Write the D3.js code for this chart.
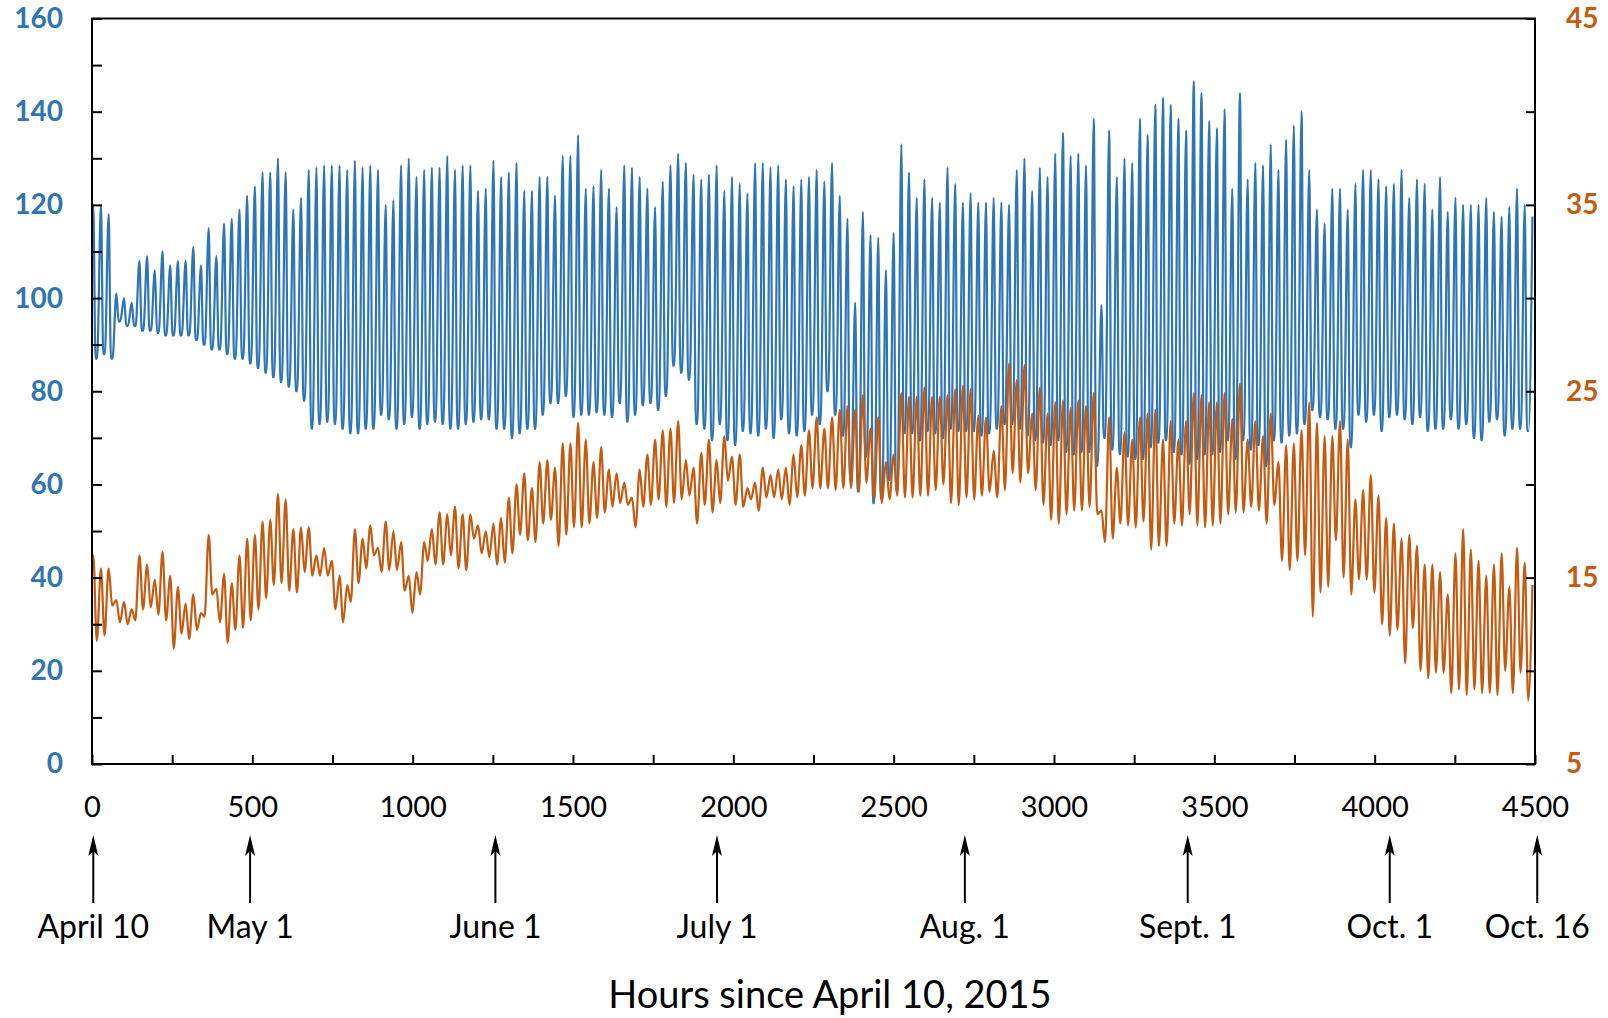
<!DOCTYPE html>
<html>
<head>
<meta charset="utf-8">
<script src="https://cdn.jsdelivr.net/npm/d3@7"></script>
<style>
  body { margin: 0; background: #fff; }
  svg { display: block; }
  text { font-family: Lato, "Open Sans", sans-serif; }
</style>
</head>
<body>
<div id="chart"></div>
<script>
/**
 * values, one peak and one trough per day
 * (day k peaks at hour 24k + 4)
 */

const blueStart = 112;
const bluePeaks = [
  120, 120, 118, 101, 100, 99, 108, 109, 106, 110, 107, 108, 108, 111, 107, 115, 109, 116, 117, 119,
  122, 124, 127, 127, 130, 127, 119, 121.5, 127.5, 128, 128.5, 128.5, 128.5, 127.5, 129.5, 128, 128.5, 127.5, 120, 121,
  128.5, 130, 126, 127.5, 128, 128, 130.5, 127.5, 128.5, 128.5, 123, 123.5, 129.5, 126, 127, 129, 123, 123, 126, 126,
  122, 130.5, 130.5, 135, 123.5, 124, 127.5, 123.5, 119.5, 128.5, 128, 126, 123.5, 119.5, 125, 128.5, 131, 129, 126.5, 125.5,
  126.5, 128.5, 123, 126, 124.5, 122.5, 129, 129, 128, 128.5, 125.5, 124, 125.5, 126, 127.5, 125, 129, 122, 117, 99,
  118.5, 113.5, 113, 106, 114, 133, 127, 121.5, 125.5, 121.5, 120.5, 128, 124.5, 120.5, 122.5, 120.5, 120.5, 121.5, 120.5, 120,
  127.5, 130, 123, 128, 126, 131, 135.5, 130.5, 131, 128.5, 138.5, 98.5, 136, 126, 130, 129, 138.5, 135, 141.5, 143,
  141.5, 138.5, 136, 146.5, 144, 138, 136.5, 140.5, 123.5, 144, 125.5, 129, 128.5, 133, 127.5, 134, 137, 140, 127.5, 119,
  116, 123.5, 123.5, 119, 124.5, 127.5, 127.5, 125.5, 124, 124.5, 127.5, 121.5, 125.5, 124.5, 119, 126, 118.5, 121.5, 120, 120,
  120, 121.5, 118.5, 117.5, 119.5, 123.5, 120, 117.5
];
const blueTroughs = [
  87, 88, 87, 95, 94, 94, 93, 93, 92.5, 92, 92, 92, 92, 91, 90, 89, 89, 88, 87, 87,
  86, 85, 84, 83, 82, 81, 80, 78, 72, 73, 73.5, 73, 72, 71, 71, 72, 72, 75, 74, 72,
  73, 74.5, 72, 73, 73.5, 73, 72, 72, 73, 73.5, 74, 74, 72, 72, 70, 71, 72, 72, 75, 77.5,
  77.5, 79, 74.5, 75, 75, 75.5, 75, 74.5, 77.5, 73.5, 75, 77, 77.5, 76, 79, 85.5, 84, 82.5, 73, 72,
  69.5, 73, 69.5, 68.5, 71.5, 71, 70.5, 72, 70, 74, 71, 70.5, 71.5, 75, 73, 80, 75, 70.5, 61, 58.5,
  66, 56, 57, 61, 58.5, 71, 71, 69.5, 71.5, 71, 70, 72, 71.5, 71.5, 71.5, 70.5, 71, 72, 73, 73,
  72, 70.5, 69.5, 69, 68.5, 69.5, 67, 66.5, 67, 67, 64, 70, 67.5, 66.5, 66, 65.5, 65.5, 68, 69, 69.5,
  67, 66.5, 64.5, 65.5, 66.5, 66.5, 67, 69.5, 65.5, 69.5, 67.5, 68.5, 64, 69.5, 69, 70.5, 71, 73, 76, 74.5,
  74, 72, 72, 68, 75, 73.5, 75, 71.5, 74.5, 75, 74, 73, 74.5, 71.5, 72, 72, 74, 72, 73, 70,
  69.5, 73.5, 74, 70.5, 72, 72, 71.5
];

const orangeStart = 16;
const orangePeaks = [
  16.2, 15.5, 15.5, 13.8, 13.7, 13.3, 16.2, 15.7, 14.9, 16.4, 15.1, 14.5, 13.6, 14.1, 13.1, 17.3, 14.4, 15.2, 14.7, 16.2,
  17.1, 17.3, 18.0, 18.1, 19.5, 19.2, 17.6, 17.7, 17.7, 16.2, 16.6, 15.9, 15.1, 14.6, 17.6, 17.1, 17.8, 16.6, 18.0, 17.5,
  16.9, 15.1, 15.3, 16.9, 17.6, 18.5, 18.4, 18.8, 18.4, 18.4, 17.8, 17.5, 17.9, 18.2, 19.3, 20.0, 20.6, 19.8, 21.2, 21.3,
  20.9, 22.2, 22.2, 23.3, 22.4, 21.2, 22.0, 20.8, 20.6, 20.1, 19.3, 20.8, 21.6, 22.4, 22.9, 23.0, 23.4, 21.3, 20.9, 21.7,
  22.4, 21.3, 22.6, 21.5, 21.6, 19.8, 20.1, 20.9, 20.5, 20.8, 20.9, 21.6, 22.1, 22.9, 23.6, 23.0, 23.6, 24.0, 24.2, 24.0,
  24.8, 23.0, 23.6, 21.2, 21.6, 24.9, 24.7, 24.7, 25.2, 24.7, 24.7, 24.8, 25.1, 25.3, 25.1, 23.7, 23.6, 21.8, 24.2, 26.5,
  25.6, 26.4, 23.8, 25.2, 23.8, 24.4, 24.5, 24.1, 24.5, 24.2, 24.9, 18.6, 23.6, 20.9, 22.8, 22.4, 23.6, 23.8, 24.0, 22.4,
  23.4, 22.4, 23.4, 24.9, 24.8, 24.4, 24.4, 24.9, 23.5, 25.4, 22.4, 23.4, 22.6, 23.8, 21.2, 22.1, 22.2, 22.9, 24.4, 23.3,
  22.6, 22.6, 23.4, 22.4, 19.2, 19.7, 20.5, 19.4, 18.2, 17.9, 17.1, 17.3, 16.7, 15.7, 15.7, 15.3, 14.1, 16.3, 17.6, 16.5,
  15.9, 15.1, 15.7, 16.3, 14.5, 16.6, 15.8, 14.6
];
const orangeTroughs = [
  11.6, 11.9, 13.5, 12.6, 12.5, 12.7, 13.3, 13.4, 13.0, 12.7, 11.2, 12.0, 11.7, 12.2, 12.9, 14.1, 12.6, 11.5, 12.2, 12.3,
  12.7, 13.3, 13.9, 14.6, 14.7, 14.3, 14.2, 15.3, 15.1, 15.1, 15.1, 13.3, 12.6, 13.7, 14.7, 15.5, 16.2, 15.3, 15.4, 15.4,
  14.3, 13.1, 14.1, 15.9, 15.7, 15.7, 16.2, 15.5, 15.4, 17.1, 16.3, 16.1, 15.7, 15.8, 16.3, 17.3, 17.0, 16.9, 17.9, 18.1,
  16.7, 17.3, 17.7, 17.7, 17.9, 18.2, 18.5, 18.8, 19.0, 18.9, 17.7, 18.8, 18.9, 19.2, 18.8, 19.0, 19.2, 19.4, 17.9, 18.9,
  18.5, 19.0, 20.2, 18.9, 18.8, 19.2, 18.6, 19.3, 19.3, 19.2, 18.9, 19.3, 19.4, 19.8, 19.8, 19.8, 19.7, 19.8, 19.8, 19.6,
  20.1, 19.2, 19.0, 19.2, 19.4, 19.3, 19.3, 19.4, 19.4, 19.7, 20.0, 19.0, 18.9, 19.3, 19.2, 19.4, 19.6, 19.3, 19.7, 20.6,
  20.1, 20.6, 19.7, 18.9, 18.1, 17.9, 18.4, 18.6, 18.6, 18.8, 18.4, 16.9, 17.1, 17.9, 17.8, 17.7, 18.0, 16.5, 16.7, 16.7,
  17.9, 17.8, 18.4, 17.8, 17.7, 17.8, 17.9, 18.4, 18.5, 18.5, 18.8, 18.6, 17.9, 18.9, 15.9, 15.4, 15.9, 16.2, 12.9, 14.2,
  14.5, 17.0, 15.0, 14.1, 14.9, 14.9, 14.2, 12.5, 11.9, 12.2, 10.4, 12.3, 10.0, 9.6, 9.9, 9.9, 8.8, 9.0, 8.7, 9.0,
  8.8, 8.8, 8.7, 10.0, 8.8, 9.9, 8.4
];

const leftTicks = d3.range(0, 161, 10);
const rightTicks = d3.range(5, 46, 5);
const xTicks = d3.range(0, 4501, 250);

const dateLabels = ["April 10", "May 1", "June 1", "July 1", "Aug. 1", "Sept. 1", "Oct. 1", "Oct. 16"];
const dateHours = [4, 493, 1258, 1949, 2722, 3417, 4047, 4507];

const xTitle = "Hours since April 10, 2015";

/**
 * layout
 */

const WIDTH = 1608;
const HEIGHT = 1018;
const LEFT = 92, RIGHT = 1535, TOP = 18.5, BOTTOM = 764;
const BLUE = "#2E75B6";
const ORANGE = "#C55A11";

const svg = d3.select("#chart").append("svg")
    .attr("width", WIDTH)
    .attr("height", HEIGHT);

const x = d3.scaleLinear().domain([0, 4500]).range([LEFT, RIGHT]);
const yL = d3.scaleLinear().domain([0, 160]).range([BOTTOM, TOP]);
const yR = d3.scaleLinear().domain([5, 45]).range([BOTTOM, TOP]);

// one peak then a fall to the trough; holdH > 0 keeps the trough a few hours
function buildSeries(start, peaks, troughs, fallH, holdH) {
    const pts = [[0, start]];
    peaks.forEach((p, k) => {
        const h = 24 * k + 4;
        pts.push([h, p]);
        if (k < troughs.length) {
            pts.push([h + fallH, troughs[k]]);
            if (holdH) pts.push([h + holdH, troughs[k]]);
        }
    });
    return pts;
}

const blueData = buildSeries(blueStart, bluePeaks, blueTroughs, 7, 12);
const orangeData = buildSeries(orangeStart, orangePeaks, orangeTroughs, 11, 0);

svg.append("path")
    .datum(blueData)
    .attr("fill", "none")
    .attr("stroke", BLUE)
    .attr("stroke-width", 2.2)
    .attr("stroke-linejoin", "round")
    .attr("d", d3.line().x(d => x(d[0])).y(d => yL(d[1])).curve(d3.curveMonotoneX));

svg.append("path")
    .datum(orangeData)
    .attr("fill", "none")
    .attr("stroke", ORANGE)
    .attr("stroke-width", 2.2)
    .attr("stroke-linejoin", "round")
    .attr("d", d3.line().x(d => x(d[0])).y(d => yR(d[1])).curve(d3.curveMonotoneX));

/**
 * axes, all ticks point inward
 */

const gL = svg.append("g")
    .attr("transform", `translate(${LEFT},0)`)
    .call(d3.axisLeft(yL).tickValues(leftTicks).tickSizeInner(-10).tickSizeOuter(0).tickPadding(29)
        .tickFormat(d => d % 20 === 0 ? d : ""));
gL.selectAll("text").attr("fill", BLUE).attr("font-weight", "bold").attr("font-size", 28);

const gR = svg.append("g")
    .attr("transform", `translate(${RIGHT},0)`)
    .call(d3.axisRight(yR).tickValues(rightTicks).tickSizeInner(-9).tickSizeOuter(0).tickPadding(31)
        .tickFormat(d => d % 10 === 5 ? d : ""));
gR.selectAll("text").attr("fill", ORANGE).attr("font-weight", "bold").attr("font-size", 28);

const gX = svg.append("g")
    .attr("transform", `translate(0,${BOTTOM})`)
    .call(d3.axisBottom(x).tickValues(xTicks).tickSizeInner(-9).tickSizeOuter(0).tickPadding(32)
        .tickFormat(d => d % 500 === 0 ? d : ""));
gX.selectAll("text").attr("fill", "#000").attr("font-size", 29);

svg.selectAll(".tick line").attr("stroke", "#000").attr("stroke-width", 2);
svg.selectAll(".domain").remove();

svg.append("rect")
    .attr("x", LEFT)
    .attr("y", TOP)
    .attr("width", RIGHT - LEFT)
    .attr("height", BOTTOM - TOP)
    .attr("fill", "none")
    .attr("stroke", "#000")
    .attr("stroke-width", 2);

/**
 * date arrows under the axis
 */

const dates = svg.append("g").selectAll("g")
    .data(dateLabels)
    .enter()
    .append("g")
    .attr("transform", (d, i) => `translate(${x(dateHours[i])},0)`);

dates.append("line")
    .attr("x1", 0).attr("x2", 0)
    .attr("y1", 903).attr("y2", 842)
    .attr("stroke", "#000")
    .attr("stroke-width", 2);

dates.append("path")
    .attr("d", "M0,835 L-5,856 L0,851 L5,856 Z")
    .attr("fill", "#000");

dates.append("text")
    .attr("y", 938)
    .attr("text-anchor", "middle")
    .attr("font-size", 32)
    .attr("fill", "#000")
    .text(d => d);

svg.append("text")
    .attr("x", 830)
    .attr("y", 1008)
    .attr("text-anchor", "middle")
    .attr("font-size", 38)
    .attr("fill", "#000")
    .text(xTitle);
</script>
</body>
</html>
